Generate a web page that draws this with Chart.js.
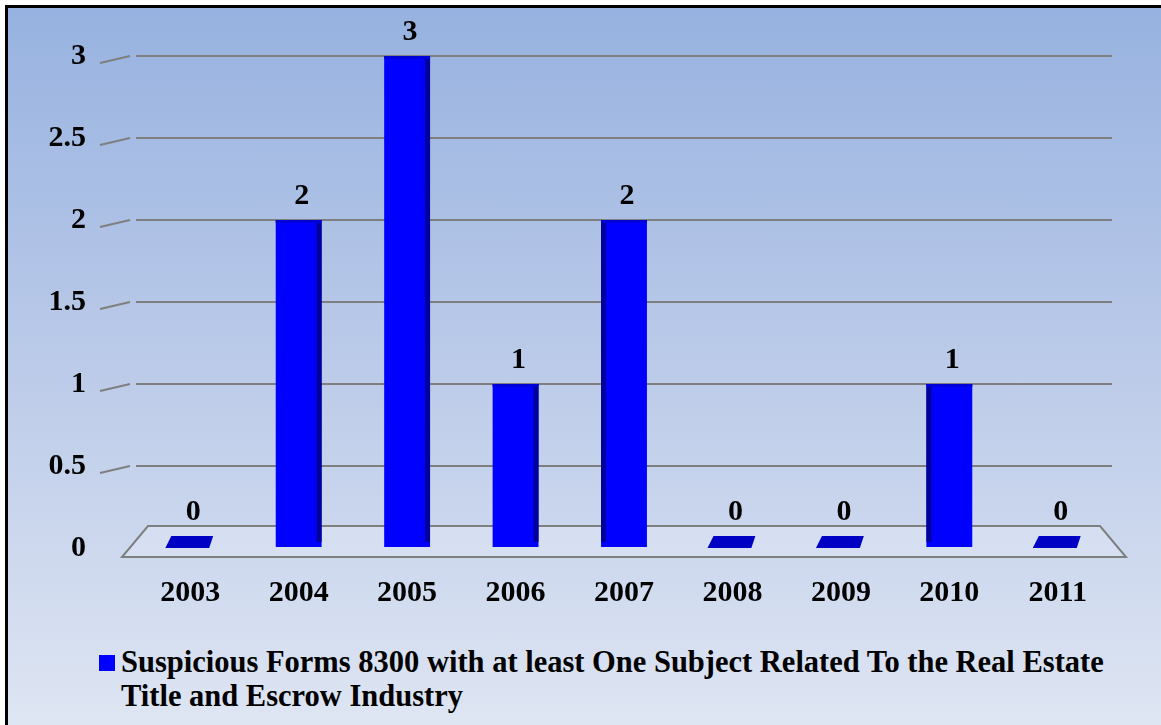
<!DOCTYPE html>
<html>
<head>
<meta charset="utf-8">
<script src="https://cdn.jsdelivr.net/npm/chart.js@4"></script>
<style>
    html, body { margin: 0; padding: 0; background: #ffffff; }
    body { width: 1161px; height: 725px; position: relative; overflow: hidden; }
    #frame {
        position: absolute; left: 5px; top: 5px; width: 1160px; height: 725px;
        border-left: 3px solid #000; border-top: 3px solid #000;
        background: linear-gradient(to bottom, #97b2e0 0%, #bccbe9 50%, #dfe6f3 100%);
    }
    #chartWrap { position: absolute; left: 0; top: -12px; width: 1161px; height: 632px; }
    #legend {
        position: absolute; left: 99px; top: 645px;
        font-family: "Liberation Serif", "Times New Roman", serif; font-weight: bold;
        font-size: 30.5px; line-height: 34px; color: #000;
    }
    #legend .box {
        display: inline-block; width: 16px; height: 16px; background: #0000ff;
        margin-right: 6px; vertical-align: 1px;
    }
    #legend .line2 { padding-left: 22px; }
</style>
</head>
<body>
<div id="frame"></div>
<div id="chartWrap"><canvas id="formsChart" width="1161" height="632"></canvas></div>
<div id="legend"><span class="box"></span>Suspicious Forms 8300 with at least One Subject Related To the Real Estate<br><span class="line2">Title and Escrow Industry</span></div>
<script>
const years = ['2003', '2004', '2005', '2006', '2007', '2008', '2009', '2010', '2011'];
const counts = [0, 2, 3, 1, 2, 0, 0, 1, 0];
const yMax = 3;
const yStep = 0.5;

const serif = '"Liberation Serif", "Times New Roman", serif';

// pseudo 3D bits: floor, wall stubs, side shading, flat zero bars, value labels
const depthPlugin = {
    id: 'depth',
    beforeDatasetsDraw(chart) {
        const ctx = chart.ctx;
        const area = chart.chartArea;
        const yScale = chart.scales.y;
        const base = yScale.getPixelForValue(0);
        ctx.save();
        ctx.strokeStyle = '#7f7f7f';
        ctx.lineWidth = 2;
        yScale.ticks.forEach(t => {
            if (t.value === 0) return;
            const y = yScale.getPixelForValue(t.value);
            ctx.beginPath();
            ctx.moveTo(area.left - 36, y + 7);
            ctx.lineTo(area.left - 6, y);
            ctx.stroke();
        });
        // floor
        ctx.fillStyle = 'rgba(220, 228, 244, 0.6)';
        ctx.beginPath();
        ctx.moveTo(area.left + 12, base - 22);
        ctx.lineTo(area.right - 12, base - 22);
        ctx.lineTo(area.right + 14, base + 9);
        ctx.lineTo(area.left - 14, base + 9);
        ctx.closePath();
        ctx.fill();
        ctx.stroke();
        ctx.restore();
    },
    afterDatasetsDraw(chart) {
        const ctx = chart.ctx;
        const meta = chart.getDatasetMeta(0);
        const area = chart.chartArea;
        const mid = (area.left + area.right) / 2;
        const base = chart.scales.y.getPixelForValue(0);
        ctx.save();
        meta.data.forEach((bar, i) => {
            const half = bar.width / 2;
            const value = counts[i];
            let top;
            if (value === 0) {
                ctx.fillStyle = '#0000c4';
                ctx.beginPath();
                ctx.moveTo(bar.x - half + 4, base - 12);
                ctx.lineTo(bar.x + half, base - 12);
                ctx.lineTo(bar.x + half - 4, base);
                ctx.lineTo(bar.x - half - 2, base);
                ctx.closePath();
                ctx.fill();
                top = base - 12;
            } else {
                ctx.fillStyle = '#00009a';
                if (bar.x < mid) {
                    ctx.fillRect(bar.x + half - 5, bar.y, 5, base - bar.y - 6);
                } else {
                    ctx.fillRect(bar.x - half, bar.y, 5, base - bar.y - 6);
                }
                ctx.fillStyle = '#0000d8';
                ctx.fillRect(bar.x - half, bar.y, bar.width, 3);
                top = bar.y;
            }
            ctx.fillStyle = '#000';
            ctx.font = 'bold 30px ' + serif;
            ctx.textAlign = 'center';
            ctx.textBaseline = 'middle';
            ctx.fillText(String(value), bar.x + 3, top - 24);
        });
        ctx.restore();
    }
};

const ctx = document.getElementById('formsChart').getContext('2d');

const formsChart = new Chart(ctx, {
    type: 'bar',
    data: {
        labels: years,
        datasets: [{
            label: 'Suspicious Forms 8300 with at least One Subject Related To the Real Estate Title and Escrow Industry',
            data: counts,
            backgroundColor: '#0000ff',
            borderWidth: 0,
            barPercentage: 0.47,
            categoryPercentage: 0.9
        }]
    },
    options: {
        responsive: false,
        animation: false,
        layout: {
            padding: { left: 0, right: 49, top: 43, bottom: 0 }
        },
        scales: {
            x: {
                grid: { display: false, drawTicks: false },
                border: { display: false },
                ticks: {
                    color: '#000',
                    padding: 27,
                    font: { family: serif, size: 30, weight: 'bold' }
                },
                afterFit(scale) { scale.height = 72; }
            },
            y: {
                min: 0,
                max: yMax,
                ticks: {
                    stepSize: yStep,
                    color: '#000',
                    padding: 50,
                    font: { family: serif, size: 30, weight: 'bold' },
                    callback: value => String(value)
                },
                grid: {
                    drawTicks: false,
                    lineWidth: 2,
                    color: ctx => ctx.tick && ctx.tick.value === 0 ? 'rgba(0,0,0,0)' : '#7f7f7f'
                },
                border: { display: false },
                afterFit(scale) { scale.width = 136; }
            }
        },
        plugins: {
            legend: { display: false },
            tooltip: { enabled: false }
        }
    },
    plugins: [depthPlugin]
});
</script>
</body>
</html>
